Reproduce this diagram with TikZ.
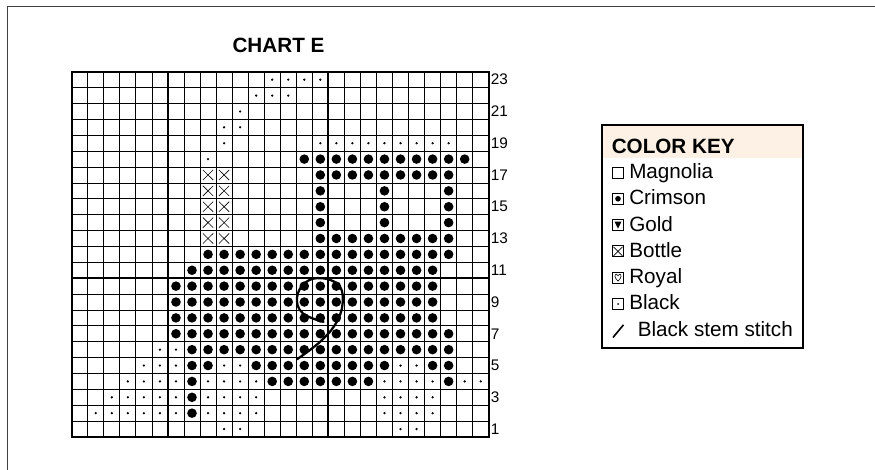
\documentclass[tikz,border=0pt]{standalone}
\usepackage{fontspec}
\setmainfont{Liberation Sans}
\definecolor{keyband}{RGB}{253,240,228}
\tikzset{
  gridline/.style={line width=0.55pt},
  majorline/.style={line width=1.3pt},
  bottlex/.style={line width=0.45pt},
  stemstitch/.style={line width=1.7pt, line cap=round},
  rowlabel/.style={anchor=west, inner sep=0pt, font=\fontsize{11.5}{13}\selectfont},
  keyitem/.style={anchor=base west, inner sep=0pt, font=\fontsize{15.5}{18}\selectfont},
  keysym/.style={line width=0.6pt},
}
% one row of chart symbols: #1 = row, #2 = list of columns
\newcommand{\crimsonrow}[2]{\foreach \col in {#2} \fill (\col-0.5,#1-0.5) circle (0.3);}
\newcommand{\blackrow}[2]{\foreach \col in {#2} \fill (\col-0.5,#1-0.5) circle (0.08);}

\begin{document}
\begin{tikzpicture}[x=0.75pt,y=-0.75pt]
  \useasboundingbox (0,0) rectangle (875,470);
  \draw[black!75, line width=0.75pt] (7,470) -- (7,7) -- (875,7);

  \node[font=\bfseries\fontsize{15.5}{18}\selectfont] (title) at (278.5,45.5) {CHART E};

  % chart, one unit = one stitch
  \begin{scope}[shift={(71.7,437)}, xscale=16.04, yscale=-15.88]
    \foreach \i in {0,...,26} \draw[gridline] (\i,0) -- (\i,23);
    \foreach \j in {0,...,23} \draw[gridline] (0,\j) -- (26,\j);
    \foreach \i in {6,16} \draw[majorline] (\i,0) -- (\i,23);
    \foreach \j in {10,20} \draw[majorline] (0,\j) -- (26,\j);
    \draw[line width=1.6pt] (0,0) rectangle (26,23);

    \foreach \r in {1,3,...,23} \node[rowlabel] (row\r) at (26.12,\r-0.5) {\r};

    % Crimson
    \crimsonrow{18}{15,...,25}
    \crimsonrow{17}{16,...,24}
    \crimsonrow{16}{16,20,24}
    \crimsonrow{15}{16,20,24}
    \crimsonrow{14}{16,20,24}
    \crimsonrow{13}{16,...,24}
    \crimsonrow{12}{9,...,24}
    \crimsonrow{11}{8,...,23}
    \crimsonrow{10}{7,...,23}
    \crimsonrow{9}{7,...,23}
    \crimsonrow{8}{7,...,23}
    \crimsonrow{7}{7,...,24}
    \crimsonrow{6}{8,...,24}
    \crimsonrow{5}{8,9,12,13,14,15,16,17,18,19,20,23,24}
    \crimsonrow{4}{8,13,14,15,16,17,18,19,24}
    \crimsonrow{3}{8}
    \crimsonrow{2}{8}

    % Black
    \blackrow{23}{13,...,16}
    \blackrow{22}{12,13,14}
    \blackrow{21}{11}
    \blackrow{20}{10,11}
    \blackrow{19}{10,16,17,18,19,20,21,22,23,24}
    \blackrow{18}{9}
    \blackrow{6}{6,7}
    \blackrow{5}{5,6,7,10,11,21,22}
    \blackrow{4}{4,5,6,7,9,10,11,12,20,21,22,23,25,26}
    \blackrow{3}{3,4,5,6,7,9,10,11,12,20,21,22,23}
    \blackrow{2}{2,3,4,5,6,7,9,10,11,12,20,21,22,23}
    \blackrow{1}{10,11,21,22}

    % Bottle
    \foreach \r in {13,...,17}
      \foreach \col in {9,10}
        \draw[bottlex] (\col-0.82,\r-0.82) -- (\col-0.18,\r-0.18)
                       (\col-0.82,\r-0.18) -- (\col-0.18,\r-0.82);

    % stem stitch
    \draw[stemstitch] plot[smooth, tension=0.7] coordinates {(15.7,7.25) (14.4,7.8) (14.05,8.8) (14.6,9.75) (15.6,10.0) (16.6,9.6) (16.9,8.7) (16.6,7.4) (15.6,6.1) (14.05,4.9)};
  \end{scope}

  % color key
  \fill[keyband] (601.5,125) rectangle (803,158.5);
  \draw[line width=1.5pt] (601.5,125) rectangle (803,348);
  \node[keyitem, font=\bfseries\fontsize{15.5}{18}\selectfont] (keyhead) at (611.5,154) {COLOR KEY};

  \draw[keysym] (612.5,167) rectangle (623.5,178);
  \node[keyitem] (magnolia) at (629,178.5) {Magnolia};

  \draw[keysym] (612.5,193.3) rectangle (623.5,204.3);
  \fill (618,198.8) circle (2.8);
  \node[keyitem] (crimson) at (629,204.8) {Crimson};

  \draw[keysym] (612.5,219.6) rectangle (623.5,230.6);
  \fill (614.5,221.6) -- (621.5,221.6) -- (618,228.6) -- cycle;
  \node[keyitem] (gold) at (629,231.1) {Gold};

  \draw[keysym] (612.5,245.9) rectangle (623.5,256.9);
  \draw[bottlex] (613.5,246.9) -- (622.5,255.9) (613.5,255.9) -- (622.5,246.9);
  \node[keyitem] (bottle) at (629,257.4) {Bottle};

  \draw[keysym] (612.5,272.2) rectangle (623.5,283.2);
  \draw[bottlex] (618,281.2) .. controls (614,277.7) and (614.5,274.2) .. (616.5,274.2)
    .. controls (617.5,274.2) and (618,275.2) .. (618,275.7)
    .. controls (618,275.2) and (618.5,274.2) .. (619.5,274.2)
    .. controls (621.5,274.2) and (622,277.7) .. (618,281.2);
  \node[keyitem] (royal) at (629,283.7) {Royal};

  \draw[keysym] (612.5,298.5) rectangle (623.5,309.5);
  \fill (618,304) circle (1);
  \node[keyitem] (black) at (629,310) {Black};

  \draw[line width=1.2pt] (613,337.5) -- (623.5,324.8);
  \node[keyitem] (stem) at (637.5,336.3) {Black stem stitch};
\end{tikzpicture}
\end{document}
